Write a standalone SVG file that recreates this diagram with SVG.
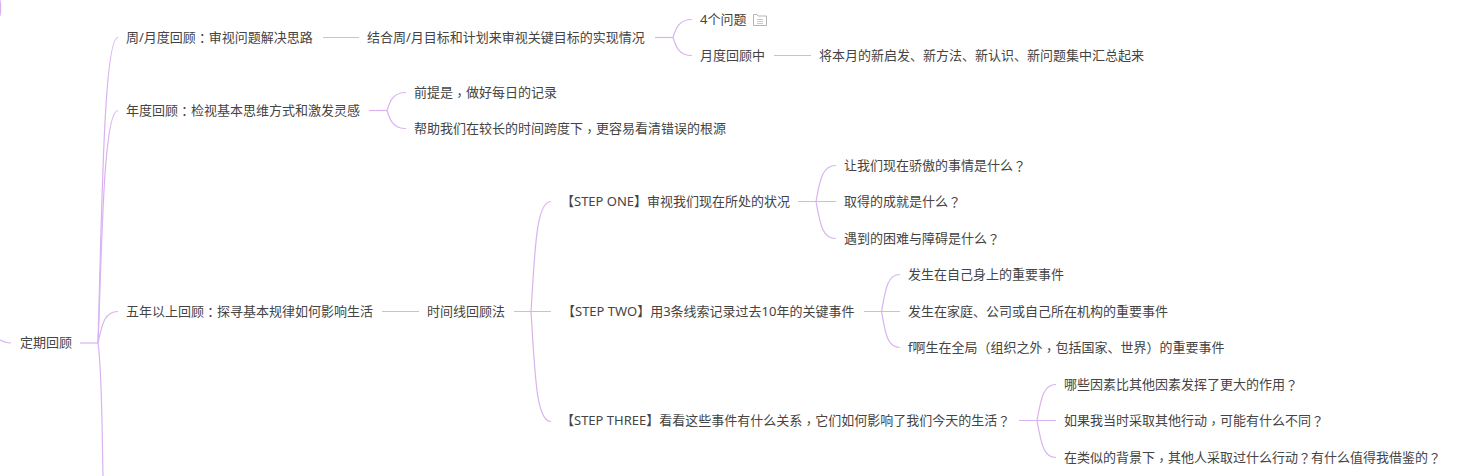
<svg xmlns="http://www.w3.org/2000/svg" width="1476" height="476" viewBox="0 0 1476 476">
<style>
text{font-family:"Noto Sans","Noto Sans CJK SC",sans-serif;font-size:13px;fill:#444;dominant-baseline:central}
.p{font-family:"Noto Sans CJK TC",sans-serif}
#connectors path{fill:none;stroke:#d9b3f0;stroke-width:1.2}
#note-icon path{fill:none;stroke:#b4b4b4;stroke-width:1}
</style>
<g id="connectors">
<path d="M0 340C4 342 7 343 11 343"/>
<path d="M0 0C1 6 1 10 0 16"/>
<path d="M80 343H98"/>
<path d="M98 343C102 200 104 37.500 118 37.500"/>
<path d="M98 343C102 250 103 110.500 118 110.500"/>
<path d="M98 343C102 325 104 311.500 118 311.500"/>
<path d="M98 343C102 370 102 430 103 476"/>
<path d="M323 37.500H359"/>
<path d="M655 37.500H673"/>
<path d="M673 37.500C676 28 679 19.500 692 19.500"/>
<path d="M673 37.500C676 47 679 55.500 692 55.500"/>
<path d="M774 55.500H811"/>
<path d="M369 110.500H387"/>
<path d="M387 110.500C390 101 393 92.500 406 92.500"/>
<path d="M387 110.500C390 120 393 128.500 406 128.500"/>
<path d="M382 311.500H419"/>
<path d="M514 311.500H551"/>
<path d="M531 311.500C535 250 536 201.500 551 201.500"/>
<path d="M531 311.500C535 373 536 421.500 551 421.500"/>
<path d="M798 201.500H836"/>
<path d="M816 201.500C820 180 822 165.500 836 165.500"/>
<path d="M816 201.500C820 223 822 238.500 836 238.500"/>
<path d="M864 311.500H900"/>
<path d="M881.500 311.500C885.500 290 887 274.500 900 274.500"/>
<path d="M881.500 311.500C885.500 333 887 347.500 900 347.500"/>
<path d="M1019 420.500H1056"/>
<path d="M1037 420.500C1041 399 1043 384.500 1056 384.500"/>
<path d="M1037 420.500C1041 442 1043 457.500 1056 457.500"/>
</g>
<g id="n-root"><text x="20" y="342">定期回顾</text></g>
<g id="n-week"><text x="126" y="36.500">周/月度回顾<tspan class="p">：</tspan>审视问题解决思路</text></g>
<g id="n-week-1"><text x="367" y="36.500">结合周/月目标和计划来审视关键目标的实现情况</text></g>
<g id="n-4q"><text x="700" y="18.500">4个问题</text>
<g id="note-icon"><path d="M753.500 14.500H757L758 16H766.500V25.500H753.500Z"/><path d="M757 19.500H763M757 21.500H763M757 23.500H763" opacity=".7"/></g></g>
<g id="n-month"><text x="700" y="54.500">月度回顾中</text></g>
<g id="n-month-1"><text x="819" y="54.500">将本月的新启发、新方法、新认识、新问题集中汇总起来</text></g>
<g id="n-year"><text x="126" y="109.500">年度回顾<tspan class="p">：</tspan>检视基本思维方式和激发灵感</text></g>
<g id="n-year-1"><text x="414" y="91.500">前提是<tspan class="p" dy="2">，</tspan><tspan dy="-2">做</tspan>好每日的记录</text></g>
<g id="n-year-2"><text x="414" y="128">帮助我们在较长的时间跨度下<tspan class="p" dy="2">，</tspan><tspan dy="-2">更</tspan>容易看清错误的根源</text></g>
<g id="n-five"><text x="126" y="310.500">五年以上回顾<tspan class="p">：</tspan>探寻基本规律如何影响生活</text></g>
<g id="n-timeline"><text x="427" y="310.500">时间线回顾法</text></g>
<g id="n-step1"><text x="561" y="201">【STEP ONE】审视我们现在所处的状况</text></g>
<g id="n-s1a"><text x="844" y="165">让我们现在骄傲的事情是什么<tspan class="p">？</tspan></text></g>
<g id="n-s1b"><text x="844" y="201">取得的成就是什么<tspan class="p">？</tspan></text></g>
<g id="n-s1c"><text x="844" y="238">遇到的困难与障碍是什么<tspan class="p">？</tspan></text></g>
<g id="n-step2"><text x="562" y="310.500">【STEP TWO】用3条线索记录过去10年的关键事件</text></g>
<g id="n-s2a"><text x="908" y="274">发生在自己身上的重要事件</text></g>
<g id="n-s2b"><text x="908" y="311">发生在家庭、公司或自己所在机构的重要事件</text></g>
<g id="n-s2c"><text x="908" y="347">f啊生在全局<tspan class="p">（</tspan>组织之外<tspan class="p" dy="2">，</tspan><tspan dy="-2">包</tspan>括国家、世界<tspan class="p">）</tspan>的重要事件</text></g>
<g id="n-step3"><text x="561" y="420">【STEP THREE】看看这些事件有什么关系<tspan class="p" dy="2">，</tspan><tspan dy="-2">它</tspan>们如何影响了我们今天的生活<tspan class="p">？</tspan></text></g>
<g id="n-s3a"><text x="1064" y="384">哪些因素比其他因素发挥了更大的作用<tspan class="p">？</tspan></text></g>
<g id="n-s3b"><text x="1064" y="420">如果我当时采取其他行动<tspan class="p" dy="2">，</tspan><tspan dy="-2">可</tspan>能有什么不同<tspan class="p">？</tspan></text></g>
<g id="n-s3c"><text x="1064" y="457">在类似的背景下<tspan class="p" dy="2">，</tspan><tspan dy="-2">其</tspan>他人采取过什么行动<tspan class="p">？</tspan>有什么值得我借鉴的<tspan class="p">？</tspan></text></g>
</svg>
